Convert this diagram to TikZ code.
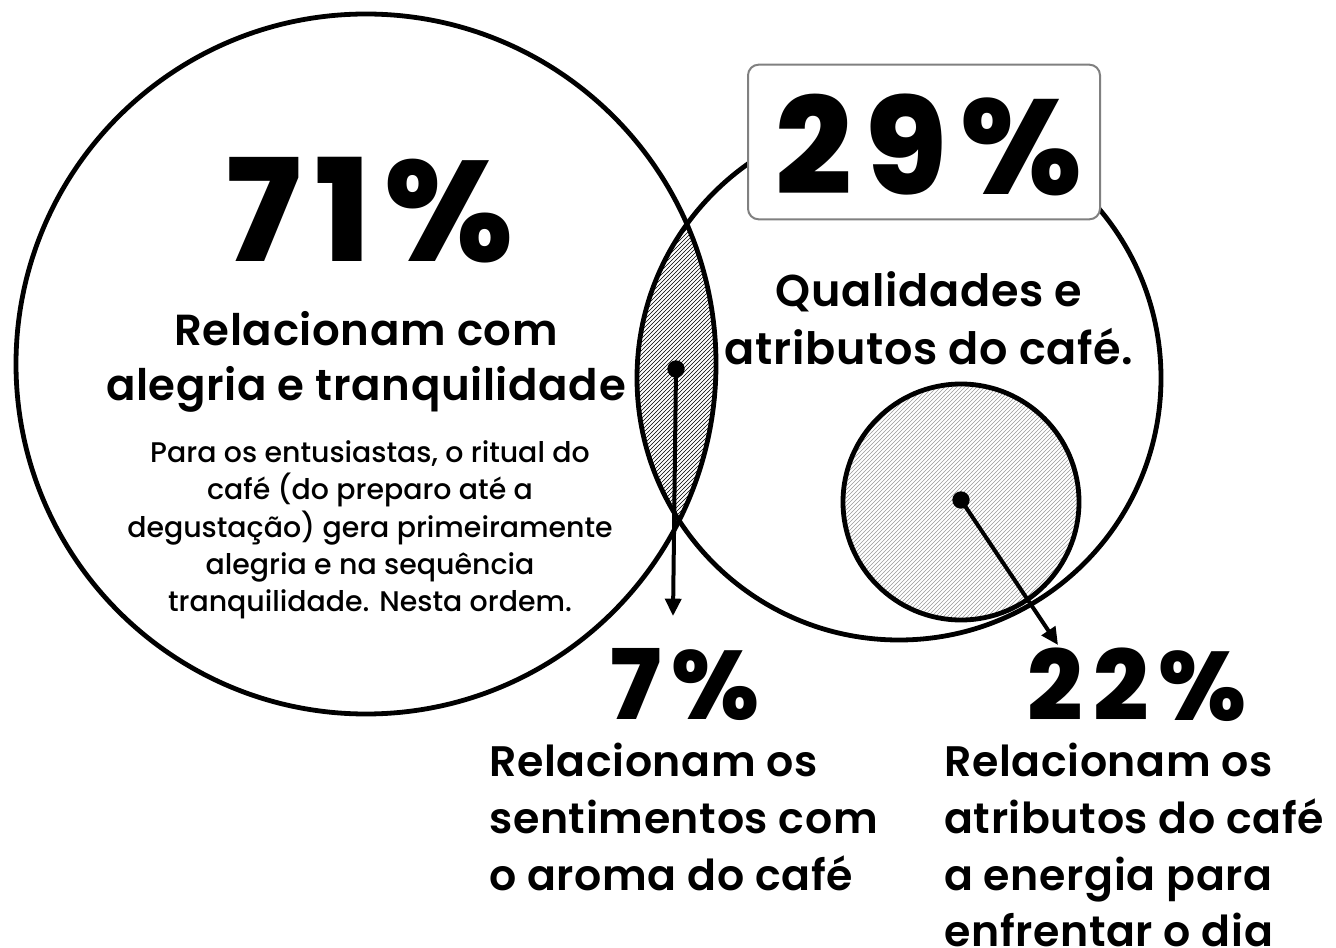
\documentclass[tikz,border=0pt]{standalone}
\usepackage{fontspec}
\setmainfont{Poppins}
\newfontfamily\semib{Poppins SemiBold}[LetterSpace=1.5]
\newfontfamily\medi{Poppins Medium}
\newfontfamily\numf{Poppins ExtraBold}[LetterSpace=10]
\usetikzlibrary{patterns,arrows.meta}

\tikzset{
  ring/.style={line width=3.6pt},
  pin/.style={-{Triangle[length=13pt,width=12pt]}, line width=3pt},
  bignum/.style={inner sep=0pt, font=\fontsize{107}{107}\numf},
  midnum/.style={inner sep=0pt, font=\fontsize{73}{73}\numf},
  headline/.style={inner sep=0pt, align=center, font=\fontsize{32.6}{41}\semib},
  bodytext/.style={inner sep=0pt, align=center, font=\fontsize{21.3}{28}\medi},
  sidetext/.style={inner sep=0pt, align=left, anchor=north west, font=\fontsize{32}{42.5}\semib},
}

\begin{document}
\begin{tikzpicture}[x=0.75pt, y=-0.75pt]
  \useasboundingbox (0,0) rectangle (1336,948);

  \coordinate (cA) at (366,364);
  \coordinate (cB) at (899,378);
  \coordinate (cC) at (961,502);

  % overlap of the two big circles
  \begin{scope}
    \clip (cA) circle[radius=262.5pt];
    \fill[pattern=north east lines] (cB) circle[radius=196.5pt];
  \end{scope}
  \fill[pattern=north east lines, pattern color=gray!80] (cC) circle[radius=88.5pt];

  \draw[ring] (cA) circle[radius=262.5pt];
  \draw[ring] (cB) circle[radius=196.5pt];
  \draw[ring] (cC) circle[radius=88.5pt];

  \node[draw=gray, fill=white, rounded corners=8pt, line width=1.5pt,
        minimum width=264pt, minimum height=116pt, inner sep=0pt] (box29) at (924,142) {};
  \node[inner sep=0pt, font=\fontsize{101}{101}\numf] (n29) at (929,145) {29\%};

  \node[bignum] (n71) at (370,210) {71\%};
  \node[headline] (relA) at (366,362) {Relacionam com\\alegria e tranquilidade};
  \node[bodytext] (para) at (370,530) {Para os entusiastas, o ritual do\\café (do preparo até a\\degustação) gera primeiramente\\alegria e na sequência\\tranquilidade. Nesta ordem.};
  \node[headline, font=\fontsize{33.4}{43.5}\semib] (qual) at (929,318) {Qualidades e\\atributos do café.};

  \node[midnum] (n7) at (685,685) {7\%};
  \node[midnum] (n22) at (1137,685) {22\%};
  \node[sidetext] (senti) at (489,743) {Relacionam os\\sentimentos com\\o aroma do café};
  \node[sidetext] (energ) at (944,743) {Relacionam os\\atributos do café\\a energia para\\enfrentar o dia};

  \coordinate (dotA) at (676,369);
  \coordinate (tipA) at (673,616);
  \coordinate (dotC) at (961,500);
  \coordinate (tipC) at (1058,645);
  \fill (dotA) circle[radius=6.5pt];
  \fill (dotC) circle[radius=6.5pt];
  \draw[pin] (dotA) -- (tipA);
  \draw[pin] (dotC) -- (tipC);
\end{tikzpicture}
\end{document}
